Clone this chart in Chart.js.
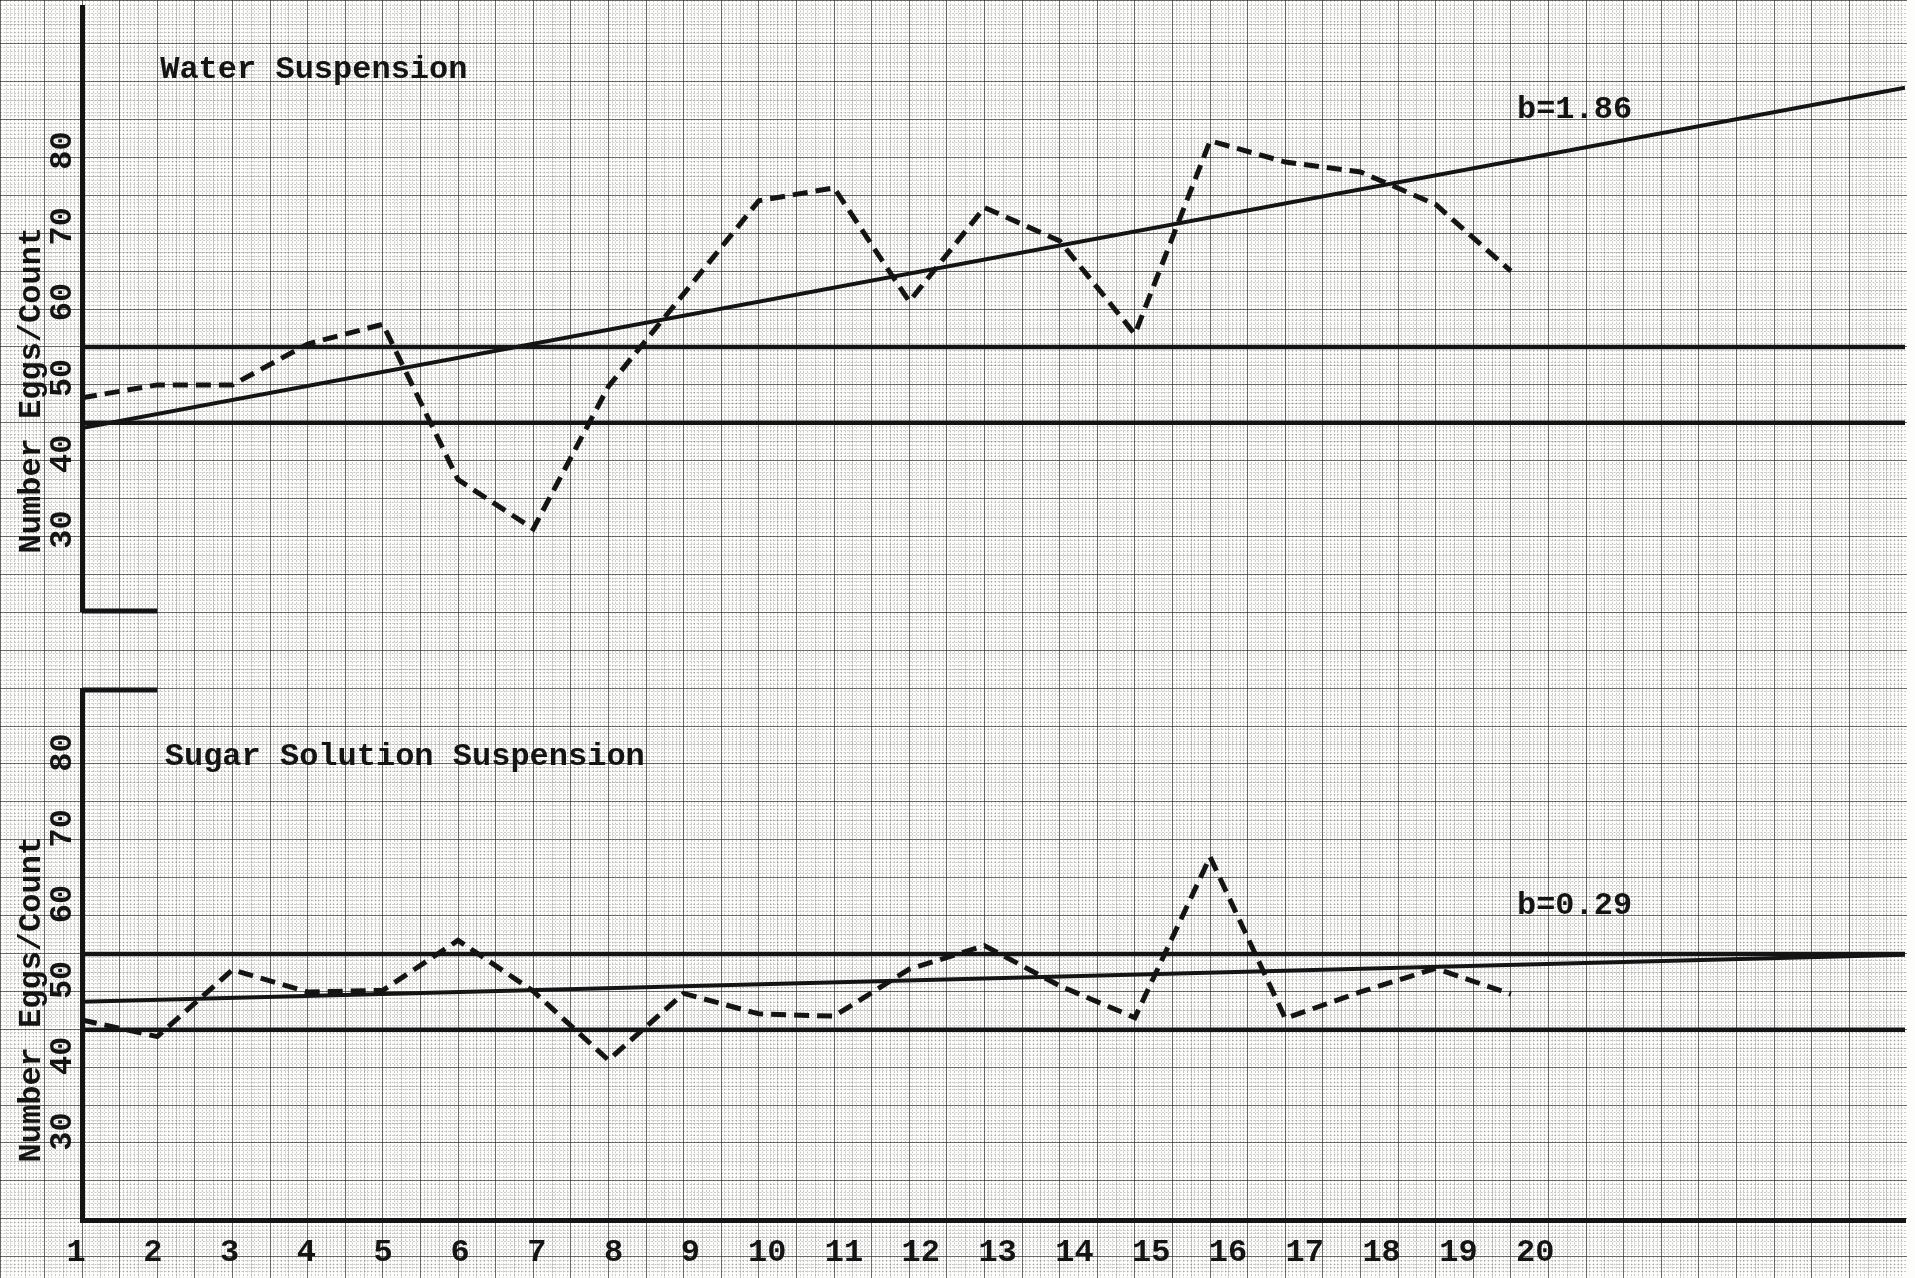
<!DOCTYPE html>
<html>
<head>
<meta charset="utf-8">
<script src="https://cdn.jsdelivr.net/npm/chart.js@4.4.1/dist/chart.umd.min.js"></script>
<style>
  html, body { margin: 0; padding: 0; background: #fdfdfc; }
  #page { position: relative; width: 1915px; height: 1278px; overflow: hidden; }
  .box { position: absolute; left: 0; }
</style>
</head>
<body>
<div id="page">
  <div class="box" style="top:0;width:1907px;height:1278px"><canvas id="bg"></canvas></div>
  <div class="box" style="top:0;width:1915px;height:640px"><canvas id="topChart"></canvas></div>
  <div class="box" style="top:660px;width:1915px;height:618px"><canvas id="botChart"></canvas></div>
</div>
<script>
// ---------------- data ----------------
const days = [1, 2, 3, 4, 5, 6, 7, 8, 9, 10, 11, 12, 13, 14, 15, 16, 17, 18, 19, 20];
const waterCounts = [48.3, 50.0, 50.0, 55.4, 58.0, 37.5, 31.0, 49.8, 62.0, 74.3,
                     76.0, 61.0, 73.4, 69.0, 56.7, 82.2, 79.4, 78.1, 73.8, 65.0];
const sugarCounts = [46.3, 44.1, 52.9, 50.0, 50.2, 56.8, 50.1, 41.0, 49.8, 47.1,
                     46.8, 53.0, 56.1, 50.8, 46.6, 67.8, 46.5, 50.0, 53.1, 49.7];
const trendX = [1, 25.24];
const waterTrend = [44.3, 89.2];
const sugarTrend = [48.7, 54.9];
const upperLimit = [55, 55];
const lowerLimit = [45, 45];
const stubX = [1, 2];
const yTickValues = [30, 40, 50, 60, 70, 80];
const xTickValues = [1, 2, 3, 4, 5, 6, 7, 8, 9, 10, 11, 12, 13, 14, 15, 16, 17, 18, 19, 20];
const xTickLabels = ['1', '2', '3', '4', '5', '6', '7', '8', '9', '10',
                     '11', '12', '13', '14', '15', '16', '17', '18', '19', '20'];
const yTitle = 'Number Eggs/Count';

// ---------------- styling ----------------
const INK = '#141414';
const FAMILY = '"Liberation Mono", "DejaVu Sans Mono", monospace';
const FONT = { family: FAMILY, size: 32, weight: 'bold' };
const X_MIN = 1, X_MAX = 25.24;

const pts = (xs, ys) => xs.map((x, i) => ({ x: x, y: ys[i] }));

function notes(items) {
  return {
    id: 'notes',
    afterDraw(chart) {
      const { ctx, scales } = chart;
      ctx.save();
      ctx.font = 'bold 32px ' + FAMILY;
      ctx.fillStyle = INK;
      ctx.textAlign = 'left';
      ctx.textBaseline = 'middle';
      items.forEach(it => {
        ctx.fillText(it.text, scales.x.getPixelForValue(it.x), scales.y.getPixelForValue(it.y));
      });
      ctx.restore();
    }
  };
}

function lineSet(data, opts) {
  return Object.assign({
    data: data, borderColor: INK, borderWidth: 4.5, pointRadius: 0,
    tension: 0, fill: false, borderCapStyle: 'butt', borderJoinStyle: 'miter'
  }, opts || {});
}

function yAxis(min, max, labelOffset) {
  return {
    type: 'linear', position: 'left', min: min, max: max,
    afterBuildTicks: s => { s.ticks = yTickValues.map(v => ({ value: v })); },
    afterFit: s => { s.width = 82; s.paddingTop = 0; s.paddingBottom = 0; },
    ticks: {
      minRotation: 90, maxRotation: 90, crossAlign: 'center', padding: 0,
      labelOffset: labelOffset, color: INK, font: FONT, autoSkip: false
    },
    grid: { display: false, drawTicks: false },
    border: { display: true, width: 5, color: INK },
    title: {
      display: true, text: '   ' + yTitle, align: 'start', color: INK, font: FONT,
      padding: { top: 13, bottom: 0 }
    }
  };
}

const common = {
  responsive: true, maintainAspectRatio: false, animation: false, events: [],
  plugins: { legend: { display: false }, tooltip: { enabled: false } }
};

// ---------------- graph-paper background ----------------
const PX_X = 75.2, PX_Y = 7.58;   // pixels per x unit and per count unit on the sheet
function gridScale(axis, min, max, step, color, width, dash) {
  return {
    type: 'linear', axis: axis, position: axis === 'x' ? 'bottom' : 'left',
    min: min, max: max,
    ticks: { display: false, stepSize: step, autoSkip: false },
    grid: { display: true, drawTicks: false, color: color, lineWidth: width },
    border: { display: false, dash: dash || [] }
  };
}
const gx0 = 1 - 82 / PX_X, gx1 = 1 + (1907 - 82) / PX_X;
const gy1 = 55 + 347 / PX_Y, gy0 = 55 - (1278 - 347) / PX_Y;
new Chart(document.getElementById('bg'), {
  type: 'line',
  data: { datasets: [] },
  options: Object.assign({}, common, {
    layout: { padding: 0 },
    scales: {
      gxa: gridScale('x', gx0, gx1, 0.05, 'rgba(60,60,60,0.26)', 1, [2, 1.5]),
      gxb: gridScale('x', gx0, gx1, 0.25, 'rgba(60,60,60,0.16)', 1),
      gxc: gridScale('x', gx0, gx1, 0.5, 'rgba(30,30,30,0.55)', 1),
      gya: gridScale('y', gy0, gy1, 0.5, 'rgba(60,60,60,0.26)', 1, [2, 1.5]),
      gyb: gridScale('y', gy0, gy1, 2.5, 'rgba(60,60,60,0.16)', 1),
      gyc: gridScale('y', gy0, gy1, 5, 'rgba(30,30,30,0.55)', 1)
    }
  })
});

// ---------------- top chart: water suspension ----------------
const topMin = 20.172, topMax = 99.855;
new Chart(document.getElementById('topChart'), {
  type: 'line',
  data: {
    datasets: [
      lineSet(pts(days, waterCounts), { borderDash: [15, 8], borderWidth: 5 }),
      lineSet(pts(trendX, waterTrend), { borderWidth: 4 }),
      lineSet(pts(trendX, upperLimit)),
      lineSet(pts(trendX, lowerLimit)),
      lineSet(pts(stubX, [topMin, topMin]), { clip: false, borderWidth: 5 })
    ]
  },
  options: Object.assign({}, common, {
    layout: { padding: { top: 7, bottom: 29, left: 0, right: 10 } },
    scales: {
      x: { type: 'linear', min: X_MIN, max: X_MAX, display: false },
      y: yAxis(topMin, topMax, -7)
    }
  }),
  plugins: [notes([
    { text: 'Water Suspension', x: 2.04, y: 91.5 },
    { text: 'b=1.86', x: 20.08, y: 86.3 }
  ])]
});

// ---------------- bottom chart: sugar solution suspension ----------------
const botMin = 19.908, botMax = 89.828;
new Chart(document.getElementById('botChart'), {
  type: 'line',
  data: {
    datasets: [
      lineSet(pts(days, sugarCounts), { borderDash: [15, 8], borderWidth: 5 }),
      lineSet(pts(trendX, sugarTrend), { borderWidth: 4 }),
      lineSet(pts(trendX, upperLimit)),
      lineSet(pts(trendX, lowerLimit)),
      lineSet(pts(stubX, [botMax, botMax]), { clip: false, borderWidth: 5 })
    ]
  },
  options: Object.assign({}, common, {
    layout: { padding: { top: 30, bottom: 0, left: 0, right: 10 } },
    scales: {
      x: { type: 'linear', min: X_MIN, max: X_MAX, display: false },
      xl: {
        type: 'linear', position: 'bottom', min: 1, max: 1 + 1823 / 76.8,
        afterFit: s => { s.height = 58; s.paddingLeft = 0; s.paddingRight = 0; },
        ticks: {
          stepSize: 1, autoSkip: false, maxRotation: 0, minRotation: 0,
          labelOffset: -6, padding: 14, color: INK, font: FONT,
          callback: v => { const i = xTickValues.indexOf(v); return i >= 0 ? xTickLabels[i] : ''; }
        },
        grid: { display: false, drawTicks: false },
        border: { display: true, width: 5, color: INK }
      },
      y: yAxis(botMin, botMax, -12)
    }
  }),
  plugins: [notes([
    { text: 'Sugar Solution Suspension', x: 2.10, y: 81.0 },
    { text: 'b=0.29', x: 20.08, y: 61.3 }
  ])]
});
</script>
</body>
</html>
